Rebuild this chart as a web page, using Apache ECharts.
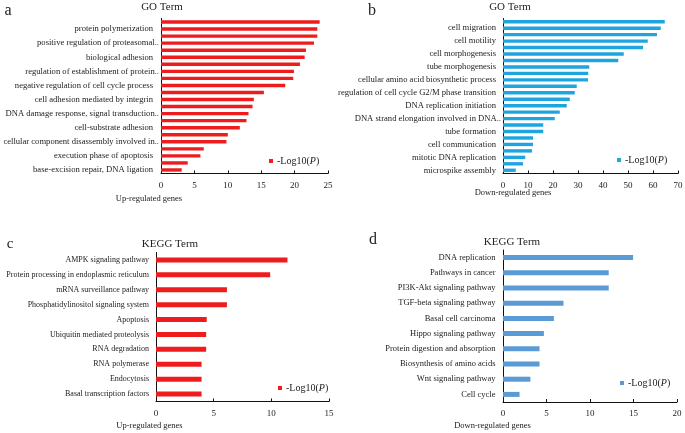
<!DOCTYPE html>
<html>
<head>
<meta charset="utf-8">
<script src="https://cdn.jsdelivr.net/npm/echarts@6/dist/echarts.min.js"></script>
<style>
  html, body { margin: 0; padding: 0; background: #fff; }
  #chart { width: 685px; height: 433px; }
</style>
</head>
<body>
<div id="chart"></div>
<script>
// top-to-bottom order; '' = category whose label is not shown in the figure
const goUpTerms = [
  '', 'protein polymerization', '', 'positive regulation of proteasomal..',
  '', 'biological adhesion', '', 'regulation of establishment of protein..',
  '', 'negative regulation of cell cycle process', '', 'cell adhesion mediated by integrin',
  '', 'DNA damage response, signal transduction..', '', 'cell-substrate adhesion',
  '', 'cellular component disassembly involved in..', '', 'execution phase of apoptosis',
  '', 'base-excision repair, DNA ligation'
];
const goUpValues = [23.75, 23.4, 23.4, 22.9, 21.7, 21.5, 20.8, 19.9, 19.8, 18.6, 15.4,
  13.9, 13.7, 13.1, 12.8, 11.8, 10.0, 9.8, 6.4, 5.9, 4.0, 3.1];

const goDownTerms = [
  '', 'cell migration', '', 'cell motility', '', 'cell morphogenesis',
  '', 'tube morphogenesis', '', 'cellular amino acid biosynthetic process',
  '', 'regulation of cell cycle G2/M phase transition', '', 'DNA replication initiation',
  '', 'DNA strand elongation involved in DNA..', '', 'tube formation',
  '', 'cell communication', '', 'mitotic DNA replication', '', 'microspike assembly'
];
const goDownValues = [64.7, 63.1, 61.6, 57.9, 56.0, 48.3, 46.1, 34.5, 34.1, 34.0, 29.5, 28.7,
  26.7, 25.5, 22.7, 20.7, 16.1, 16.1, 12.0, 12.0, 11.6, 8.9, 8.0, 5.1];

const keggUpTerms = ['AMPK signaling pathway', 'Protein processing in endoplasmic reticulum',
  'mRNA surveillance pathway', 'Phosphatidylinositol signaling system', 'Apoptosis',
  'Ubiquitin mediated proteolysis', 'RNA degradation', 'RNA polymerase', 'Endocytosis',
  'Basal transcription factors'];
const keggUpValues = [11.4, 9.9, 6.15, 6.15, 4.4, 4.35, 4.35, 3.95, 3.95, 3.95];

const keggDownTerms = ['DNA replication', 'Pathways in cancer', 'PI3K-Akt signaling pathway',
  'TGF-beta signaling pathway', 'Basal cell carcinoma', 'Hippo signaling pathway',
  'Protein digestion and absorption', 'Biosynthesis of amino acids', 'Wnt signaling pathway',
  'Cell cycle'];
const keggDownValues = [14.95, 12.15, 12.15, 6.95, 5.85, 4.7, 4.2, 4.2, 3.15, 1.9];

const xTicks = [[0, 25, 5], [0, 70, 10], [0, 15, 5], [0, 20, 5]];

const font = '"Liberation Serif", "Times New Roman", serif';
const colors = ['#ee1c1c', '#1ea5df', '#ee1c1c', '#5b9bd5'];

const chart = echarts.init(document.getElementById('chart'), null, { renderer: 'canvas' });

const grids = [
  { left: 161, top: 18.5, width: 167, height: 155, outerBoundsMode: 'none' },
  { left: 503, top: 18.5, width: 175, height: 155, outerBoundsMode: 'none' },
  { left: 156, top: 252.5, width: 173, height: 149, outerBoundsMode: 'none' },
  { left: 503, top: 250, width: 174, height: 152, outerBoundsMode: 'none' }
];
const cats = [goUpTerms, goDownTerms, keggUpTerms, keggDownTerms];
const vals = [goUpValues, goDownValues, keggUpValues, keggDownValues];
const catSize = [8.6, 8.6, 8, 8.5];
const catMargin = [2, 2, 7, 7.5];
// extra gap for full (non-truncated) labels in the GO panels
const fullPad = [6, 5, 0, 0];
const barW = [3.4, 3.4, 5, 5];

chart.setOption({
  animation: false,
  textStyle: { fontFamily: font },
  grid: grids,
  xAxis: xTicks.map((t, i) => ({
    type: 'value', gridIndex: i, min: t[0], max: t[1], interval: t[2],
    splitLine: { show: false },
    axisLine: { show: true, lineStyle: { color: '#111', width: 1 } },
    axisTick: { show: true, inside: true, length: 3, lineStyle: { color: '#111' } },
    axisLabel: { fontFamily: font, fontSize: 9, color: '#222', margin: 7.5 }
  })),
  yAxis: cats.map((c, i) => ({
    type: 'category', gridIndex: i, data: c, inverse: true,
    axisLine: { show: true, lineStyle: { color: '#111', width: 1 } },
    axisTick: { show: false },
    axisLabel: {
      interval: 0, fontFamily: font, fontSize: catSize[i], color: '#222', margin: catMargin[i],
      formatter: (s) => (s && !s.endsWith('..')) ? '{f|' + s + '}' : s,
      rich: { f: { fontFamily: font, fontSize: catSize[i], color: '#222', padding: [0, fullPad[i], 0, 0] } }
    }
  })),
  legend: grids.map((g, i) => ({
    data: ['s' + i],
    left: [264, 612, 273, 615][i],
    top: [151, 150, 378, 373][i],
    icon: 'rect', itemWidth: 4, itemHeight: 4, itemGap: 4,
    formatter: () => '-Log10({i|P})',
    textStyle: {
      fontFamily: font, fontSize: 10, color: '#222', padding: [0, 0, 0, -1],
      rich: { i: { fontStyle: 'italic', fontFamily: font, fontSize: 10, color: '#222' } }
    }
  })),
  series: vals.map((v, i) => ({
    name: 's' + i, type: 'bar', xAxisIndex: i, yAxisIndex: i,
    data: v, barWidth: barW[i], itemStyle: { color: colors[i] }, silent: true
  })),
  graphic: [
    ['a', 8, 11, 16], ['b', 372, 11, 16], ['c', 10, 244, 15], ['d', 373, 240, 16],
    ['GO Term', 162, 7, 11], ['GO Term', 510, 7, 11],
    ['KEGG Term', 170, 244, 11], ['KEGG Term', 512, 242, 11],
    ['Up-regulated genes', 149, 199, 8.5], ['Down-regulated genes', 513, 192.5, 8.5],
    ['Up-regulated genes', 149.5, 425.5, 8.5], ['Down-regulated genes', 492.5, 426, 8.5]
  ].map(t => ({
    type: 'text', x: t[1], y: t[2], silent: true,
    style: {
      text: t[0], fontFamily: font, fontSize: t[3], fill: '#222',
      align: 'center', verticalAlign: 'middle'
    }
  }))
});
</script>
</body>
</html>
